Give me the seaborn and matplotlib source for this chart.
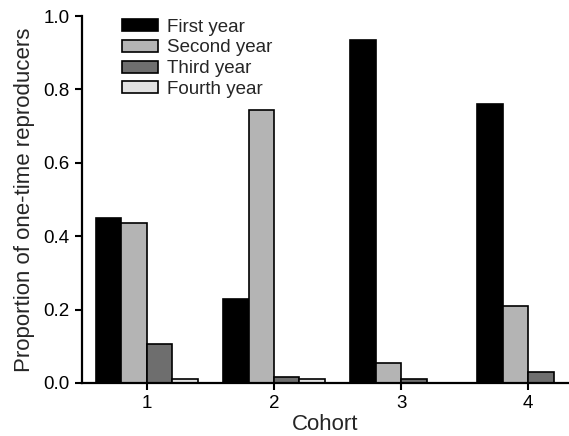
import numpy as np
import pandas as pd
import seaborn as sns
import matplotlib.pyplot as plt

cohorts = ['1', '2', '3', '4']
years = ['First year', 'Second year', 'Third year', 'Fourth year']
first_year = [0.45, 0.23, 0.935, 0.76]
second_year = [0.435, 0.745, 0.055, 0.21]
third_year = [0.105, 0.015, 0.01, 0.03]
fourth_year = [0.01, 0.01, 0.0, 0.0]
colors = ['#000000', '#b4b4b4', '#6e6e6e', '#e2e2e2']

df = pd.DataFrame({
    'Cohort': cohorts * 4,
    'Year': np.repeat(years, 4),
    'Proportion': first_year + second_year + third_year + fourth_year,
})

sns.set_style('ticks')
plt.rcParams['font.family'] = ['Liberation Sans', 'DejaVu Sans']

fig = plt.figure(figsize=(5.69, 4.36), dpi=100)
ax = fig.add_axes([0.144, 0.1216, 0.856, 0.8417])
sns.barplot(data=df, x='Cohort', y='Proportion', hue='Year', order=cohorts,
            hue_order=years, palette=colors, edgecolor='black', linewidth=1.2,
            width=0.8, ax=ax)

ax.set_ylim(0, 1.0)
ax.set_xlim(-0.51, 3.32)
ax.set_yticks(np.arange(0, 1.01, 0.2))
ax.set_yticklabels([f'{v:.1f}' for v in np.arange(0, 1.01, 0.2)])
ax.tick_params(direction='out', length=5, width=1.5, labelsize=13.5, colors='black', pad=4)
for s in ['top', 'right']:
    ax.spines[s].set_visible(False)
for s in ['left', 'bottom']:
    ax.spines[s].set_linewidth(1.6)
    ax.spines[s].set_color('black')
ax.set_xlabel('Cohort', fontsize=16, labelpad=1)
ax.set_ylabel('Proportion of one-time reproducers', fontsize=16, labelpad=6)

ax.legend(loc='upper left', bbox_to_anchor=(0.214, 0.957), bbox_transform=fig.transFigure,
          frameon=False, fontsize=13.5, handlelength=1.95, handleheight=0.6,
          handletextpad=0.45, labelspacing=0.2, borderpad=0, borderaxespad=0)

fig.savefig('out.png', dpi=100)
